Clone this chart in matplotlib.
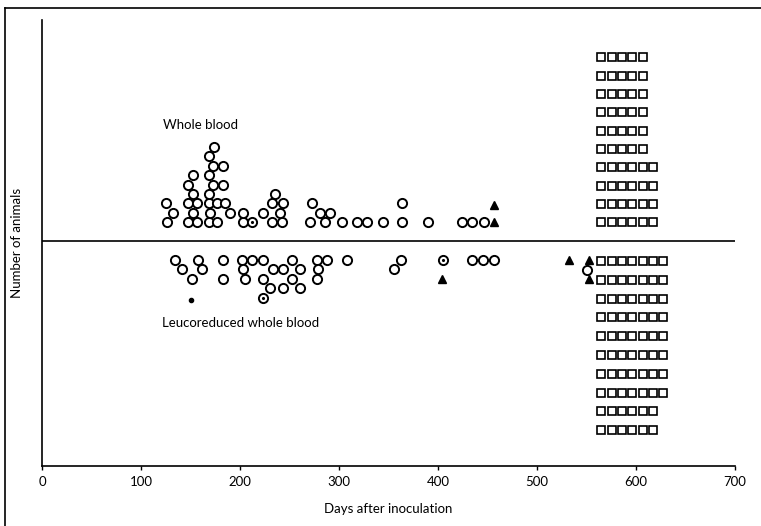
import numpy as np
import matplotlib
matplotlib.use("Agg")
import matplotlib.pyplot as plt
from matplotlib.lines import Line2D

plt.rcParams['font.family'] = ['Lato', 'DejaVu Sans']

# Whole blood: day of onset and stack level (1 = next to the line)
whole_days = [126, 147, 157, 169, 177, 203, 212, 232, 242, 271, 286, 303, 318, 328, 344, 364, 390, 424, 434, 446,
              132, 153, 170, 190, 203, 223, 240, 281, 291,
              125, 147, 157, 169, 177, 185, 232, 243, 273, 364,
              153, 169, 235,
              147, 173, 183,
              153, 169,
              173, 183,
              169,
              174]
whole_level = [1] * 20 + [2] * 9 + [3] * 10 + [4] * 3 + [5] * 3 + [6] * 2 + [7] * 2 + [8] + [9]
whole_dotted = [212]  # circle with a dot inside (level 1)

whole_tri_days = [457, 457]
whole_tri_level = [1, 2.8]

# Leucoreduced whole blood
leuco_days = [134, 158, 183, 202, 212, 223, 253, 278, 288, 308, 363, 405, 434, 445, 457,
              141, 162, 203, 233, 243, 261, 279, 356, 550,
              152, 183, 205, 223, 253, 278,
              230, 243, 261,
              223]
leuco_level = [1] * 15 + [2] * 8 + [2.1] + [3] * 6 + [4] * 3 + [5]
leuco_dotted = [(405, 1), (223, 5)]

leuco_tri_days = [404, 532, 553, 553]
leuco_tri_level = [3, 1, 1, 3]

leuco_small_dot = (150, 5.3)

# Survivors (squares), counts per row going outward from the line
whole_rows = [6, 6, 6, 6, 5, 5, 5, 5, 5, 5]
leuco_rows = [7, 7, 7, 7, 7, 7, 7, 7, 6, 6]

x_ticks = [0, 100, 200, 300, 400, 500, 600, 700]

fig = plt.figure(figsize=(7.61, 5.26), dpi=100)
ax = fig.add_axes([42 / 761, 60 / 526, 693 / 761, 446 / 526])

circ = dict(marker='o', ms=6.6, mfc='white', mec='black', mew=1.4, ls='none')
tri = dict(marker='^', ms=6, color='black', ls='none')
sq = dict(marker='s', ms=5.8, mfc='white', mec='black', mew=1.2, ls='none')

ax.plot(whole_days, np.array(whole_level) + 1, **circ)
ax.plot(leuco_days, -(np.array(leuco_level) + 1), **circ)
ax.plot(whole_tri_days, np.array(whole_tri_level) + 1, **tri)
ax.plot(leuco_tri_days, -(np.array(leuco_tri_level) + 1), **tri)

# dots inside some circles
ax.plot(whole_dotted, [2], marker='.', ms=2.5, color='black', ls='none')
ax.plot([d for d, l in leuco_dotted], [-(l + 1) for d, l in leuco_dotted],
        marker='.', ms=2.5, color='black', ls='none')
ax.plot(leuco_small_dot[0], -(leuco_small_dot[1] + 1), marker='o', ms=3, color='black')

# survivor squares
for r, n in enumerate(whole_rows):
    xs = 565 + 10.4 * np.arange(n)
    ax.plot(xs, np.full(n, 2 + 1.95 * r), **sq)
for r, n in enumerate(leuco_rows):
    xs = 565 + 10.4 * np.arange(n)
    ax.plot(xs, np.full(n, -(2.1 + 2.0 * r)), **sq)

ax.axhline(0, color='black', lw=1.2)

ax.text(122, 12.3, 'Whole blood', fontsize=9.5, va='center', ha='left')
ax.text(121, -8.7, 'Leucoreduced whole blood', fontsize=9.5, va='center', ha='left')

ax.set_xlim(0, 700)
ax.set_ylim(-23.9, 23.5)
ax.set_xticks(x_ticks)
ax.set_yticks([])
ax.tick_params(axis='x', length=3, width=1, labelsize=9.5, pad=4)
ax.spines['top'].set_visible(False)
ax.spines['right'].set_visible(False)
ax.spines['left'].set_linewidth(1.2)
ax.spines['bottom'].set_linewidth(1.2)
ax.set_xlabel('Days after inoculation', fontsize=9.5, labelpad=11)
ax.set_ylabel('Number of animals', fontsize=9.5, labelpad=14)

# scan frame (left and top only)
fig.add_artist(Line2D([5 / 761, 5 / 761], [0, 518 / 526], color='black', lw=1.2))
fig.add_artist(Line2D([5 / 761, 1], [518 / 526, 518 / 526], color='black', lw=1.2))

fig.savefig('out.png', dpi=100)
